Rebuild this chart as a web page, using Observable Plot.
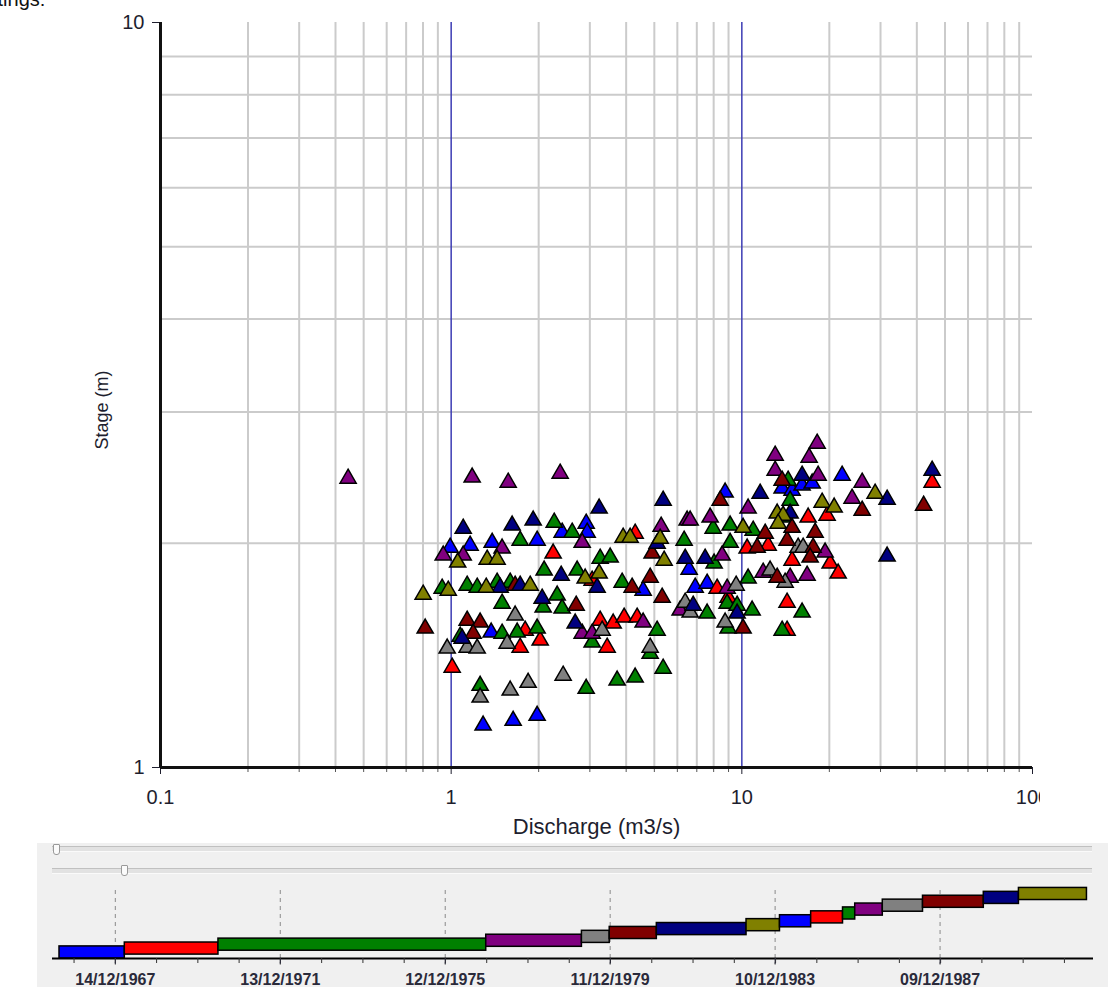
<!DOCTYPE html>
<html><head><meta charset="utf-8">
<script src="https://cdn.jsdelivr.net/npm/d3@7"></script>
<script src="https://cdn.jsdelivr.net/npm/@observablehq/plot@0.6"></script>
<style>
body{margin:0;background:#fff;width:1108px;height:987px;overflow:hidden;position:relative;font-family:"Liberation Sans",Arial,sans-serif;}
#main{position:absolute;left:0;top:0;}
#frag{position:absolute;left:-28px;top:-12px;font-size:20px;color:#111;white-space:nowrap;}
#panel{position:absolute;left:37px;top:843px;width:1071px;height:144px;background:#f0f0f0;overflow:hidden;}
#timeline{position:absolute;left:-37px;top:0;}
.track{position:absolute;height:4px;background:#e2e2e2;border-top:1px solid #c0c0c0;border-bottom:1px solid #fafafa;}
.thumb{position:absolute;width:5px;height:9px;background:#fbfbfb;border:1px solid #9a9a9a;border-radius:1px 1px 3px 3px;}
</style></head><body>
<div id="main"></div>
<div id="frag">Ratings:</div>
<div id="panel">
  <div class="track" style="left:15px;top:3px;width:1040px"></div>
  <div class="thumb" style="left:16px;top:1px"></div>
  <div class="track" style="left:15px;top:25px;width:1040px"></div>
  <div class="thumb" style="left:84px;top:22px"></div>
  <div id="timeline"></div>
</div>
<script>
// ---- Scatter data: [discharge (m3/s), stage (m)] per period group ----
const group1 = [[2.914,2.126],[2.937,2.067],[2.409,2.067],[1.976,2.017],[1.384,2.004],[1.162,1.986],[0.992,1.974],[4.576,1.728],[6.910,1.744],[7.596,1.766],[6.587,1.844],[1.373,1.518],[1.288,1.139],[1.634,1.156],[1.976,1.174],[8.760,2.340],[22.13,2.466],[13.76,2.369],[14.89,2.354],[16.12,2.391],[17.46,2.406]];
const group2 = [[2.243,1.938],[3.055,1.782],[4.295,2.061],[10.43,1.968],[12.32,1.986],[8.223,1.739],[8.972,1.691],[14.31,1.665],[1.797,1.527],[2.024,1.481],[1.727,1.449],[1.008,1.362],[3.255,1.575],[3.609,1.561],[3.936,1.590],[4.363,1.590],[3.441,1.449],[14.89,1.896],[20.13,1.879],[21.45,1.822],[16.91,2.166],[19.65,2.179],[45.15,2.413],[14.31,1.527]];
const group3 = [[2.262,2.132],[2.608,2.067],[1.727,2.017],[2.089,1.839],[2.713,1.839],[0.931,1.739],[1.135,1.755],[1.229,1.744],[1.439,1.771],[1.596,1.771],[2.073,1.640],[2.316,1.702],[2.409,1.635],[1.497,1.660],[7.967,2.093],[9.115,2.113],[10.94,2.080],[6.331,2.017],[9.115,2.004],[3.255,1.908],[3.524,1.914],[8.030,1.879],[3.874,1.771],[10.51,1.794],[8.901,1.660],[9.634,1.650],[10.85,1.625],[7.596,1.610],[1.497,1.513],[1.687,1.518],[1.976,1.537],[3.055,1.472],[5.111,1.527],[4.837,1.422],[5.361,1.358],[8.972,1.537],[16.12,1.615],[13.76,1.527],[1.258,1.288],[2.914,1.276],[3.724,1.309],[4.295,1.321],[14.43,2.428],[14.66,2.282],[13.87,2.166],[1.074,1.499]];
const group4 = [[0.442,2.443],[1.181,2.451],[1.571,2.413],[2.371,2.481],[2.823,2.004],[1.497,1.968],[0.939,1.926],[1.100,1.926],[5.277,2.106],[6.484,2.146],[6.641,2.146],[7.780,2.166],[10.51,2.227],[8.555,1.926],[2.823,1.513],[3.055,1.513],[4.576,1.566],[6.134,1.625],[8.901,1.739],[11.84,1.827],[14.66,1.799],[16.77,1.810],[19.34,1.944],[18.16,2.722],[13.02,2.623],[17.04,2.607],[13.02,2.504],[18.30,2.466],[25.94,2.413],[23.95,2.296]];
const group5 = [[1.660,1.600],[0.969,1.445],[1.135,1.449],[1.229,1.445],[1.558,1.467],[3.307,1.527],[4.837,1.449],[1.258,1.242],[1.596,1.269],[1.840,1.300],[2.428,1.329],[6.383,1.665],[6.641,1.615],[9.559,1.755],[12.51,1.839],[14.09,1.771],[15.62,1.974],[16.25,1.974],[8.760,1.566]];
const group6 = [[1.660,1.755],[2.692,1.650],[0.814,1.537],[1.135,1.575],[1.258,1.566],[1.190,1.513],[8.421,2.282],[4.913,1.938],[4.193,1.744],[4.837,1.799],[5.319,1.691],[11.29,1.974],[14.31,2.017],[13.76,2.428],[25.94,2.213],[42.21,2.247],[14.89,2.099],[17.87,2.067],[12.03,2.061],[17.59,1.974],[17.18,1.914],[13.23,1.799],[10.10,1.537]];
const group7 = [[1.100,2.093],[1.621,2.113],[1.915,2.146],[3.229,2.227],[5.361,2.282],[11.56,2.332],[5.111,1.998],[6.383,1.908],[7.476,1.908],[2.390,1.810],[3.178,1.744],[1.474,1.744],[1.727,1.755],[2.056,1.686],[1.091,1.490],[2.671,1.561],[6.801,1.650],[9.634,1.610],[16.12,2.466],[14.66,2.193],[31.61,2.289],[31.61,1.920],[45.15,2.504]];
const group8 = [[1.053,1.885],[1.330,1.902],[1.439,1.902],[2.891,1.794],[0.801,1.707],[1.320,1.744],[1.870,1.755],[10.10,2.099],[13.23,2.193],[13.87,2.179],[13.33,2.126],[3.905,2.036],[4.127,2.036],[5.236,2.029],[5.404,1.896],[3.229,1.822],[28.74,2.332],[18.89,2.268],[20.78,2.234],[0.977,1.728]];

// ---- Axis ticks ----
const xDecades = [0.1, 1, 10, 100];
const yDecades = [1, 10];
const xTickLabels = ["0.1", "1", "10", "100"];
const yTickLabels = ["1", "10"];

// ---- Timeline periods ----
const periodStart = ["1966-08-07","1968-03-07","1970-06-14","1976-12-09","1979-04-05","1979-12-07","1981-01-27","1983-04-01","1984-01-22","1984-10-24","1985-08-02","1985-11-18","1986-07-20","1987-07-11","1988-12-30","1989-11-06"];
const periodEnd   = ["1968-03-07","1970-06-14","1976-12-09","1979-04-05","1979-12-07","1981-01-27","1983-04-01","1984-01-22","1984-10-24","1985-08-02","1985-11-18","1986-07-20","1987-07-11","1988-12-30","1989-11-06","1991-07-01"];
const timelineLabels = ["14/12/1967","13/12/1971","12/12/1975","11/12/1979","10/12/1983","09/12/1987"];

const palette = ["#0000ff","#ff0000","#008000","#800080","#808080","#800000","#000080","#808000"];
const groupIds = [1,2,3,4,5,6,7,8];
const font = "'Liberation Sans', Arial, sans-serif";

const rows = [group1,group2,group3,group4,group5,group6,group7,group8]
  .flatMap((pts, i) => pts.map(([q, h]) => ({q, h, g: i + 1})));
const minorX = [0.1, 1, 10].flatMap(d => d3.range(2, 10).map(k => +(k * d).toPrecision(3)));
const minorY = d3.range(2, 10);
const xLabelOf = new Map(xDecades.map((d, i) => [d, xTickLabels[i]]));
const yLabelOf = new Map(yDecades.map((d, i) => [d, yTickLabels[i]]));

const main = Plot.plot({
  width: 1040, height: 842,
  marginLeft: 160, marginRight: 8, marginTop: 22, marginBottom: 75,
  style: {fontFamily: font, fontSize: "20px", color: "#1e1e2e", overflow: "hidden", background: "white"},
  x: {type: "log", domain: [0.1, 100]},
  y: {type: "log", domain: [1, 10]},
  color: {type: "ordinal", domain: groupIds, range: palette},
  marks: [
    Plot.ruleX(minorX, {stroke: "#cbcbcb", strokeWidth: 2}),
    Plot.ruleY(minorY, {stroke: "#cbcbcb", strokeWidth: 2}),
    Plot.ruleX([1, 10], {stroke: "#3c3cb4", strokeWidth: 1.5}),
    Plot.axisX(minorX, {tickSize: 5, tickFormat: () => "", label: null, stroke: "#555"}),
    Plot.axisX(xDecades, {tickSize: 7, tickPadding: 15, tickFormat: d => xLabelOf.get(d) ?? "", label: null}),
    Plot.axisY(yDecades, {tickSize: 8, tickPadding: 8, tickFormat: d => yLabelOf.get(d) ?? "", label: null}),
    Plot.ruleX([0.1], {stroke: "#111", strokeWidth: 3}),
    Plot.ruleY([1], {stroke: "#111", strokeWidth: 3}),
    Plot.dot(rows, {x: "q", y: "h", symbol: "triangle", r: 6, fill: "g", stroke: "#000", strokeWidth: 1.5}),
    Plot.text(["Discharge (m3/s)"], {frameAnchor: "bottom", lineAnchor: "middle", textAnchor: "middle", dy: 59, fontSize: 22}),
    Plot.text(["Stage (m)"], {frameAnchor: "left", lineAnchor: "middle", textAnchor: "middle", dx: -58, dy: 15, rotate: -90, fontSize: 18})
  ]
});
document.getElementById("main").appendChild(main);

// ---- Timeline ----
const parseD = d3.utcParse("%d/%m/%Y");
const majorDates = timelineLabels.map(parseD);
const periods = periodStart.map((s, i) => ({start: new Date(s), end: new Date(periodEnd[i]), g: (i % 8) + 1, level: i}));
const minorDates = d3.range(-1, 24).map(k => new Date(+majorDates[0] + k * 365.25 * 864e5));
const dateLabelOf = new Map(majorDates.map((d, i) => [+d, timelineLabels[i]]));

const timeline = Plot.plot({
  width: 1108, height: 144,
  marginLeft: 52, marginRight: 15, marginTop: 0, marginBottom: 29,
  style: {fontFamily: font, fontSize: "16px", fontWeight: "bold", color: "#2a2a3a", background: "transparent", overflow: "hidden"},
  x: {type: "utc", domain: [new Date("1966-06-06"), new Date("1991-08-28")]},
  y: {domain: [0, 29.5], axis: null},
  color: {type: "ordinal", domain: groupIds, range: palette},
  marks: [
    Plot.ruleX(majorDates, {stroke: "#8a8a8a", strokeDasharray: "4,4", insetTop: 47, insetBottom: -7}),
    Plot.rect(periods, {x1: "start", x2: "end", y1: "level", y2: d => d.level + 3.1, fill: "g", stroke: "#000", strokeWidth: 1.5}),
    Plot.ruleY([0], {stroke: "#000", strokeWidth: 2}),
    Plot.axisX(minorDates, {tickSize: 5, tickFormat: () => "", label: null, stroke: "#333"}),
    Plot.axisX(majorDates, {tickSize: 6, tickPadding: 9, tickFormat: d => dateLabelOf.get(+d) ?? "", label: null})
  ]
});
document.getElementById("timeline").appendChild(timeline);
</script>
</body></html>
